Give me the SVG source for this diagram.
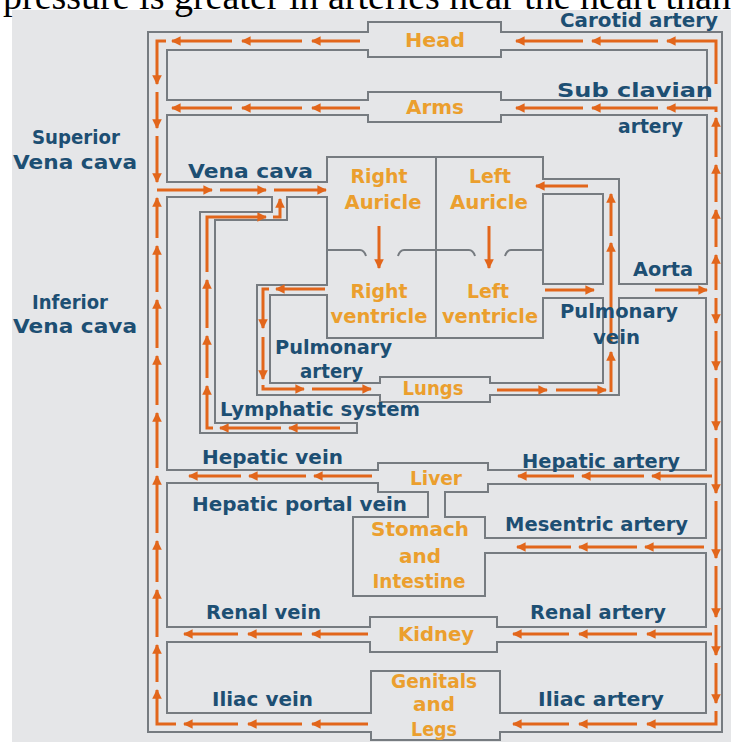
<svg xmlns="http://www.w3.org/2000/svg" width="731" height="742" viewBox="0 0 731 742">
  <defs>
    <marker id="ah" viewBox="0 0 10 10" refX="9" refY="5" markerWidth="3.2" markerHeight="3.2" orient="auto" markerUnits="strokeWidth">
      <path d="M0,0 L10,5 L0,10 z" fill="#e2661b"/>
    </marker>
    <style>
      .wall { fill: none; stroke: #767b80; stroke-width: 2; stroke-linejoin: miter; }
      .flow path { fill: none; stroke: #e2661b; stroke-width: 3; marker-end: url(#ah); }
      .lbl { font-family: "DejaVu Sans", "Liberation Sans", sans-serif; font-weight: bold; font-size: 19px; fill: #1d4f73; }
      .org { font-family: "DejaVu Sans", "Liberation Sans", sans-serif; font-weight: bold; font-size: 19px; fill: #eb9f2e; text-anchor: middle; }
      .cap { font-family: "Liberation Serif", "Times New Roman", serif; font-size: 38px; fill: #000; }
    </style>
  </defs>

  <rect x="0" y="0" width="731" height="742" fill="#ffffff"/>
  <rect x="12" y="10" width="719" height="732" fill="#e5e6e8"/>
  <text class="cap" x="3" y="9">pressure is greater in arteries near the heart than</text>

  <!-- vessel walls -->
  <g id="vessels">
    <path class="wall" d="M148,732 V32 H368 V22 H501 V32 H722 V732 H500 V740 H371 V732 Z"/>
    <path class="wall" d="M167,50 H368 V57 H501 V50 H707 V100 H501 V92 H368 V100 H167 Z"/>
    <path class="wall" d="M327,182 H167 V115 H368 V122 H501 V115 H707 V284 H619 V179 H543 V157 H327 Z"/>
    <path class="wall" d="M543,194 H603 V284 H543 Z"/>
    <path class="wall" d="M543,298 H603 V383 H490 V377 H380 V383 H270 V295 H327 V338 H543 Z"/>
    <path class="wall" d="M327,285 V197 H287 V220 H215 V423 H357 V433 H200 V212 H272 V197 H167 V470 H378 V463 H488 V470 H706 V298 H619 V395 H490 V402 H380 V395 H257 V285 Z"/>
    <path class="wall" d="M167,483 H378 V492 H428 V517 H353 V596 H485 V553 H706 V627 H497 V617 H370 V627 H167 Z"/>
    <path class="wall" d="M488,484 V492 H445 V517 H485 V538 H706 V484 Z"/>
    <path class="wall" d="M167,642 H370 V652 H497 V642 H706 V713 H500 V671 H371 V713 H167 Z"/>
    <!-- heart septum and valves -->
    <path class="wall" d="M436,157 V338"/>
    <path class="wall" d="M327,250 H360 Q364,250 366,256 M398,256 Q400,250 404,250 H436"/>
    <path class="wall" d="M436,250 H469 Q473,250 475,256 M505,256 Q507,250 511,250 H543"/>
  </g>

  <!-- blood flow -->
  <g id="connectors" class="flow">
    <!-- head loop -->
    <path d="M716,84 V41 H667"/>
    <path d="M658,41 H592"/>
    <path d="M583,41 H516"/>
    <path d="M360,41 H312"/>
    <path d="M302,41 H242"/>
    <path d="M232,41 H172"/>
    <path d="M166,41 H157 V84"/>
    <!-- arms loop -->
    <path d="M716,112 V108 H667"/>
    <path d="M658,108 H592"/>
    <path d="M583,108 H516"/>
    <path d="M360,108 H312"/>
    <path d="M302,108 H242"/>
    <path d="M232,108 H172"/>
    <!-- superior vena cava -->
    <path d="M157,92 V128"/>
    <path d="M157,136 V182"/>
    <!-- inferior vena cava -->
    <path d="M176,724 H157 V690"/>
    <path d="M157,682 V645"/>
    <path d="M157,637 V590"/>
    <path d="M157,582 V541"/>
    <path d="M157,533 V476"/>
    <path d="M157,468 V413"/>
    <path d="M157,405 V356"/>
    <path d="M157,348 V300"/>
    <path d="M157,292 V246"/>
    <path d="M157,238 V198"/>
    <!-- vena cava into right auricle -->
    <path d="M157,190 H212"/>
    <path d="M220,190 H266"/>
    <path d="M274,190 H326"/>
    <!-- lymphatic system -->
    <path d="M340,428 H289"/>
    <path d="M281,428 H220"/>
    <path d="M213,428 H207 V386"/>
    <path d="M207,378 V336"/>
    <path d="M207,328 V280"/>
    <path d="M207,272 V217 H266"/>
    <path d="M273,217 H280 V199"/>
    <!-- pulmonary artery -->
    <path d="M325,289 H276"/>
    <path d="M269,289 H263 V328"/>
    <path d="M263,337 V379"/>
    <path d="M263,385 V389 H304"/>
    <path d="M312,389 H371"/>
    <!-- pulmonary vein -->
    <path d="M497,390 H547"/>
    <path d="M556,390 H606"/>
    <path d="M611,392 V352"/>
    <path d="M611,344 V243"/>
    <path d="M611,236 V194"/>
    <path d="M588,186 H536"/>
    <!-- heart chambers -->
    <path d="M379,226 V268"/>
    <path d="M489,226 V268"/>
    <!-- aorta -->
    <path d="M545,290 H594"/>
    <path d="M655,290 H707"/>
    <!-- ascending aorta -->
    <path d="M716,290 V255"/>
    <path d="M716,247 V210"/>
    <path d="M716,202 V165"/>
    <path d="M716,157 V118"/>
    <!-- descending aorta -->
    <path d="M716,298 V323"/>
    <path d="M716,331 V370"/>
    <path d="M716,378 V430"/>
    <path d="M716,438 V493"/>
    <path d="M716,501 V558"/>
    <path d="M716,566 V617"/>
    <path d="M716,625 V655"/>
    <path d="M716,663 V703"/>
    <!-- liver -->
    <path d="M712,476 H652"/>
    <path d="M644,476 H582"/>
    <path d="M574,476 H518"/>
    <path d="M372,476 H314"/>
    <path d="M306,476 H249"/>
    <path d="M241,476 H189"/>
    <!-- mesentric -->
    <path d="M704,547 H645"/>
    <path d="M637,547 H579"/>
    <path d="M571,547 H517"/>
    <!-- kidney -->
    <path d="M712,634 H647"/>
    <path d="M637,634 H579"/>
    <path d="M569,634 H513"/>
    <path d="M368,634 H312"/>
    <path d="M302,634 H248"/>
    <path d="M238,634 H184"/>
    <!-- genitals and legs -->
    <path d="M716,711 V724 H647"/>
    <path d="M637,724 H579"/>
    <path d="M569,724 H513"/>
    <path d="M368,724 H312"/>
    <path d="M302,724 H248"/>
    <path d="M238,724 H184"/>
  </g>

  <!-- organs -->
  <g id="head"><text class="org" x="435" y="47" textLength="60" lengthAdjust="spacingAndGlyphs">Head</text></g>
  <g id="arms"><text class="org" x="435" y="114" textLength="58" lengthAdjust="spacingAndGlyphs">Arms</text></g>
  <g id="right-auricle"><text class="org" x="379" y="183" textLength="57" lengthAdjust="spacingAndGlyphs">Right</text><text class="org" x="383" y="209" textLength="77" lengthAdjust="spacingAndGlyphs">Auricle</text></g>
  <g id="left-auricle"><text class="org" x="490" y="183" textLength="42" lengthAdjust="spacingAndGlyphs">Left</text><text class="org" x="489" y="209" textLength="78" lengthAdjust="spacingAndGlyphs">Auricle</text></g>
  <g id="right-ventricle"><text class="org" x="379" y="298" textLength="57" lengthAdjust="spacingAndGlyphs">Right</text><text class="org" x="379" y="323" textLength="97" lengthAdjust="spacingAndGlyphs">ventricle</text></g>
  <g id="left-ventricle"><text class="org" x="488" y="298" textLength="42" lengthAdjust="spacingAndGlyphs">Left</text><text class="org" x="490" y="323" textLength="96" lengthAdjust="spacingAndGlyphs">ventricle</text></g>
  <g id="lungs"><text class="org" x="433" y="395" textLength="61" lengthAdjust="spacingAndGlyphs">Lungs</text></g>
  <g id="liver"><text class="org" x="436" y="485" textLength="52" lengthAdjust="spacingAndGlyphs">Liver</text></g>
  <g id="stomach"><text class="org" x="420" y="536" textLength="98" lengthAdjust="spacingAndGlyphs">Stomach</text><text class="org" x="420" y="563" textLength="42" lengthAdjust="spacingAndGlyphs">and</text><text class="org" x="419" y="588" textLength="93" lengthAdjust="spacingAndGlyphs">Intestine</text></g>
  <g id="kidney"><text class="org" x="436" y="641" textLength="76" lengthAdjust="spacingAndGlyphs">Kidney</text></g>
  <g id="genitals"><text class="org" x="434" y="688" textLength="86" lengthAdjust="spacingAndGlyphs">Genitals</text><text class="org" x="434" y="711" textLength="42" lengthAdjust="spacingAndGlyphs">and</text><text class="org" x="434" y="736" textLength="46" lengthAdjust="spacingAndGlyphs">Legs</text></g>

  <!-- vessel names -->
  <g id="labels">
    <text class="lbl" x="560" y="27" textLength="158" lengthAdjust="spacingAndGlyphs">Carotid artery</text>
    <text class="lbl" x="557" y="97" textLength="156" lengthAdjust="spacingAndGlyphs">Sub clavian</text>
    <text class="lbl" x="618" y="133" textLength="65" lengthAdjust="spacingAndGlyphs">artery</text>
    <text class="lbl" x="32" y="144" textLength="88" lengthAdjust="spacingAndGlyphs">Superior</text>
    <text class="lbl" x="13" y="169" textLength="124" lengthAdjust="spacingAndGlyphs">Vena cava</text>
    <text class="lbl" x="32" y="309" textLength="76" lengthAdjust="spacingAndGlyphs">Inferior</text>
    <text class="lbl" x="13" y="333" textLength="124" lengthAdjust="spacingAndGlyphs">Vena cava</text>
    <text class="lbl" x="188" y="178" textLength="125" lengthAdjust="spacingAndGlyphs">Vena cava</text>
    <text class="lbl" x="633" y="276" textLength="60" lengthAdjust="spacingAndGlyphs">Aorta</text>
    <text class="lbl" x="560" y="318" textLength="118" lengthAdjust="spacingAndGlyphs">Pulmonary</text>
    <text class="lbl" x="593" y="344" textLength="47" lengthAdjust="spacingAndGlyphs">vein</text>
    <text class="lbl" x="275" y="354" textLength="117" lengthAdjust="spacingAndGlyphs">Pulmonary</text>
    <text class="lbl" x="300" y="378" textLength="63" lengthAdjust="spacingAndGlyphs">artery</text>
    <text class="lbl" x="220" y="416" textLength="200" lengthAdjust="spacingAndGlyphs">Lymphatic system</text>
    <text class="lbl" x="202" y="464" textLength="141" lengthAdjust="spacingAndGlyphs">Hepatic vein</text>
    <text class="lbl" x="522" y="468" textLength="158" lengthAdjust="spacingAndGlyphs">Hepatic artery</text>
    <text class="lbl" x="192" y="511" textLength="215" lengthAdjust="spacingAndGlyphs">Hepatic portal vein</text>
    <text class="lbl" x="505" y="531" textLength="183" lengthAdjust="spacingAndGlyphs">Mesentric artery</text>
    <text class="lbl" x="206" y="619" textLength="115" lengthAdjust="spacingAndGlyphs">Renal vein</text>
    <text class="lbl" x="530" y="619" textLength="136" lengthAdjust="spacingAndGlyphs">Renal artery</text>
    <text class="lbl" x="212" y="706" textLength="101" lengthAdjust="spacingAndGlyphs">Iliac vein</text>
    <text class="lbl" x="538" y="706" textLength="126" lengthAdjust="spacingAndGlyphs">Iliac artery</text>
  </g>
</svg>
